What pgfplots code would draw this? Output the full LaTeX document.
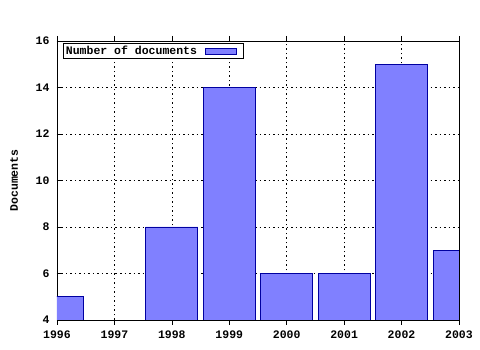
\documentclass[border=0pt]{standalone}
\usepackage{pgfplots}
\pgfplotsset{compat=1.18}
\usepackage{fontspec}
\setmainfont{Liberation Mono}
\definecolor{barfill}{HTML}{8080FF}
\definecolor{baredge}{HTML}{0000A0}
\begin{document}
\begin{tikzpicture}[x=1pt,y=1pt]
\path[use as bounding box] (0,0) rectangle (480,350);
\begin{axis}[
  at={(57pt,30pt)}, anchor=south west,
  scale only axis, width=402pt, height=279pt,
  xmin=1996, xmax=2003, ymin=4, ymax=16,
  xtick={1996,...,2003}, ytick={4,6,...,16},
  minor x tick num=3,
  xticklabel style={/pgf/number format/1000 sep={}},
  /pgf/number format/assume math mode=true,
  ticklabel style={font=\bfseries\fontsize{11.5}{12}\selectfont},
  label style={font=\bfseries\fontsize{11.5}{12}\selectfont},
  ylabel={Documents},
  ylabel style={at={(axis description cs:-0.107,0.5)}, anchor=center},
  xtick pos=both, ytick pos=left,
  x tick style={black, line width=0.6pt},
  y tick style={black, line width=0.6pt},
  tick align=inside,
  major tick length=5pt, minor tick length=3pt,
  xticklabel style={yshift=-2pt},
  yticklabel style={xshift=-4pt},
  grid=major,
  major grid style={black, line width=0.6pt, dash pattern=on 1.5pt off 3pt},
  axis line style={black, line width=0.8pt},
  ybar, bar width=0.905,
  legend plot pos=right,
  legend style={at={(axis cs:1996.105,15.9)}, anchor=north west, draw=black, line width=0.8pt,
    font=\bfseries\fontsize{11.5}{12}\selectfont, inner sep=0.5pt, legend cell align=left},
  legend image code/.code={\draw[#1, fill=barfill, draw=baredge] (0pt,-3pt) rectangle (31pt,3pt);\path[draw=none,fill=none] (31pt,0pt) -- (37pt,0pt);},
  legend style={/tikz/every odd column/.append style={column sep=6pt}},
]
\addplot[fill=barfill, draw=baredge, line width=0.8pt] coordinates {
  (1996,5) (1998,8) (1999,14) (2000,6) (2001,6) (2002,15) (2003,7)
};
\legend{\strut Number of documents}
\end{axis}
\end{tikzpicture}
\end{document}
